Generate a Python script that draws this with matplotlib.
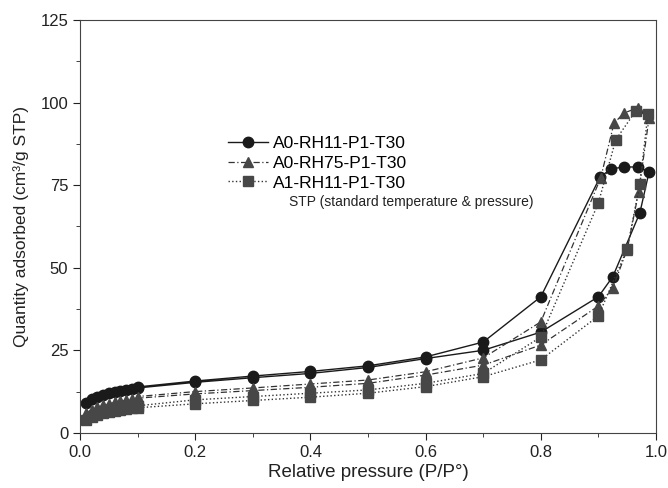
import matplotlib
matplotlib.use("Agg")
import matplotlib.pyplot as plt
from matplotlib.ticker import MultipleLocator, FormatStrFormatter

plt.rcParams['font.family'] = ['Liberation Sans', 'DejaVu Sans']

# relative pressure points: adsorption branch then desorption branch
p_low = [0.01, 0.02, 0.03, 0.04, 0.05, 0.06, 0.07, 0.08, 0.09, 0.10]

# A0-RH11-P1-T30
a0_11_p = p_low + [0.2, 0.3, 0.4, 0.5, 0.6, 0.7, 0.8, 0.9, 0.925, 0.972, 0.988,
                   0.969, 0.944, 0.922, 0.903, 0.8, 0.7, 0.6, 0.5, 0.4, 0.3, 0.2, 0.1]
a0_11_q = [9.0, 10.2, 11.0, 11.6, 12.1, 12.5, 12.8, 13.1, 13.4, 13.6,
           15.3, 16.7, 18.0, 19.8, 22.5, 25.0, 30.5, 41.2, 47.3, 66.6, 79.0,
           80.5, 80.5, 79.9, 77.5, 41.2, 27.5, 23.0, 20.3, 18.6, 17.2, 15.7, 13.9]

# A0-RH75-P1-T30
a0_75_p = p_low + [0.2, 0.3, 0.4, 0.5, 0.6, 0.7, 0.8, 0.9, 0.925, 0.95, 0.97, 0.988,
                   0.968, 0.944, 0.927, 0.904, 0.8, 0.7, 0.6, 0.5, 0.4, 0.3, 0.2, 0.1]
a0_75_q = [6.0, 7.0, 7.7, 8.3, 8.8, 9.2, 9.6, 9.9, 10.2, 10.5,
           11.8, 12.8, 13.8, 15.0, 17.5, 20.5, 26.6, 38.4, 43.9, 55.5, 73.0, 95.3,
           98.4, 96.8, 93.7, 77.2, 33.6, 22.7, 18.5, 16.0, 14.8, 13.6, 12.5, 11.0]

# A1-RH11-P1-T30
a1_11_p = p_low + [0.2, 0.3, 0.4, 0.5, 0.6, 0.7, 0.8, 0.9, 0.95, 0.972, 0.986,
                   0.965, 0.93, 0.9, 0.8, 0.7, 0.6, 0.5, 0.4, 0.3, 0.2, 0.1]
a1_11_q = [4.0, 4.9, 5.5, 6.0, 6.4, 6.7, 7.0, 7.2, 7.4, 7.6,
           8.8, 9.8, 10.8, 12.0, 14.0, 17.0, 22.1, 35.4, 55.7, 75.4, 96.5,
           97.5, 88.7, 69.6, 29.0, 18.0, 15.0, 13.0, 12.0, 11.0, 10.0, 8.2]

fig = plt.figure(figsize=(6.68, 4.88), dpi=100)
ax = fig.add_axes([0.12, 0.113, 0.862, 0.846])

ax.plot(a0_11_p, a0_11_q, '-', color='#1a1a1a', lw=1.0, marker='o', ms=7.5,
        mfc='#1a1a1a', mec='#1a1a1a', label='A0-RH11-P1-T30')
ax.plot(a0_75_p, a0_75_q, linestyle=(0, (5, 2, 1, 2)), color='#333333', lw=0.9,
        marker='^', ms=7.5, mfc='#474747', mec='#474747', label='A0-RH75-P1-T30')
ax.plot(a1_11_p, a1_11_q, ':', color='#333333', lw=1.0, marker='s', ms=6.5,
        mfc='#474747', mec='#474747', label='A1-RH11-P1-T30')

ax.set_xlim(0, 1.0)
ax.set_ylim(0, 125)
ax.xaxis.set_major_locator(MultipleLocator(0.2))
ax.xaxis.set_minor_locator(MultipleLocator(0.1))
ax.xaxis.set_major_formatter(FormatStrFormatter('%.1f'))
ax.yaxis.set_major_locator(MultipleLocator(25))
ax.yaxis.set_minor_locator(MultipleLocator(12.5))
ax.tick_params(which='both', direction='out', top=False, right=False,
               labelsize=12, colors='#222222')
ax.tick_params(which='major', length=5)
ax.tick_params(which='minor', length=3)
for s in ax.spines.values():
    s.set_color('#444444')

ax.set_xlabel('Relative pressure (P/P°)', fontsize=13.5, color='#222222', labelpad=3)
ax.set_ylabel('Quantity adsorbed (cm³/g STP)', fontsize=12.5, color='#222222', labelpad=8)

ax.legend(loc='upper left', bbox_to_anchor=(0.229, 0.757), frameon=False,
          fontsize=12.6, handlelength=2.3, handletextpad=0.3, labelspacing=0.25)
ax.text(0.575, 0.56, 'STP (standard temperature & pressure)', transform=ax.transAxes,
        ha='center', va='center', fontsize=10, color='#222222')

fig.savefig('out.png', dpi=100)
